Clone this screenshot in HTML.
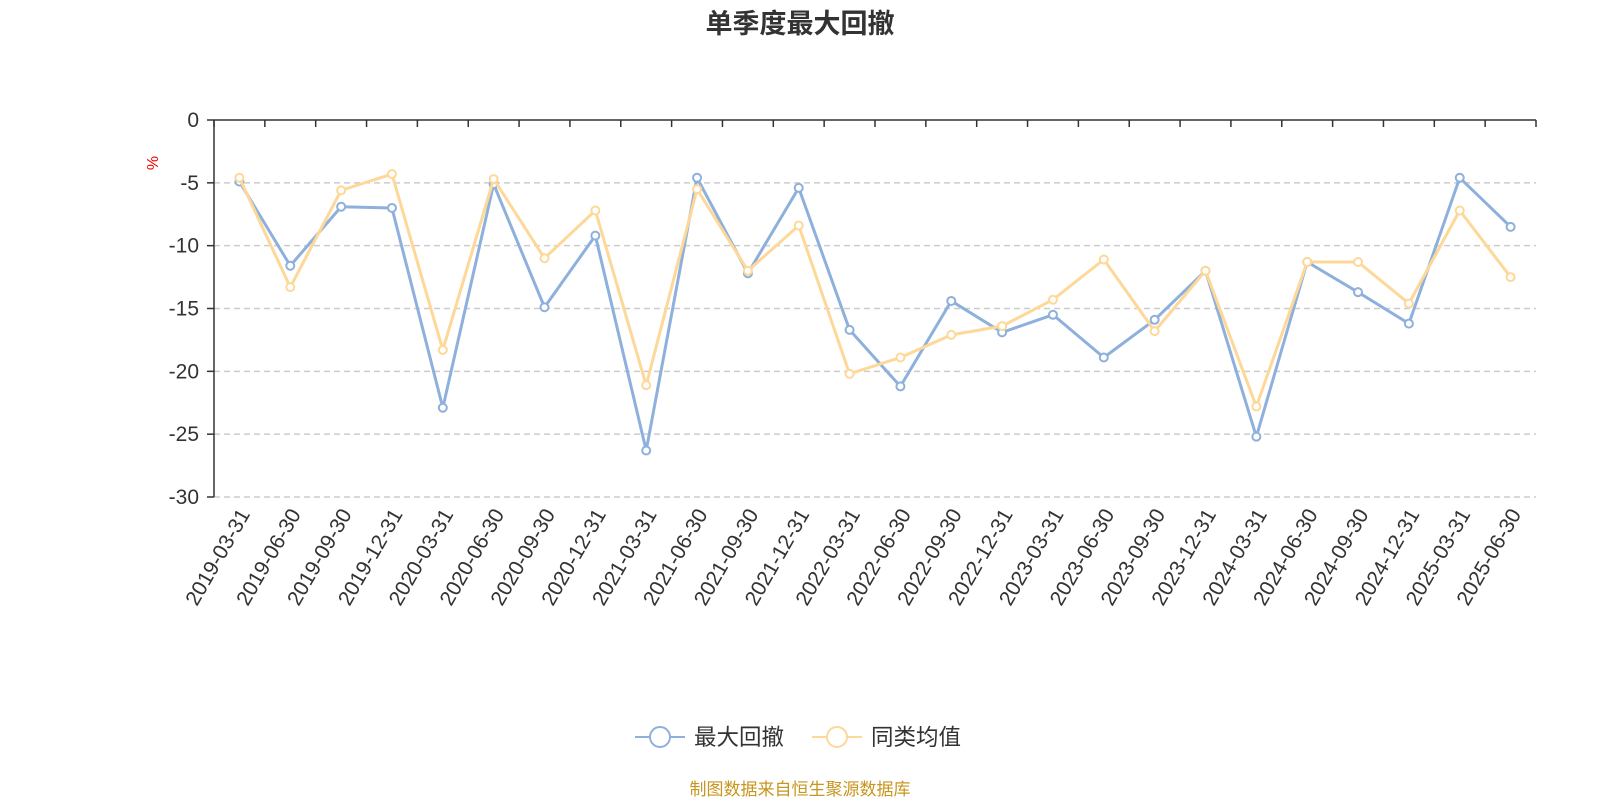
<!DOCTYPE html>
<html><head><meta charset="utf-8"><style>
body{margin:0;background:#fff;}
svg text{font-family:"Liberation Sans","Noto Sans CJK SC",sans-serif;}
</style></head><body>
<svg id="c" width="1600" height="800">
<text x="800" y="33" text-anchor="middle" font-size="27" font-weight="bold" fill="#333">单季度最大回撤</text>
<text x="158" y="163" font-size="16" fill="#e00" transform="rotate(-90 158 163)" text-anchor="middle">%</text>
<g id="grid"></g><g id="axes"></g><g id="series"></g>
<g>
<g><line x1="635" y1="737" x2="685" y2="737" stroke="#8eb0dc" stroke-width="2"/><circle cx="660" cy="737" r="10" fill="#fff" stroke="#8eb0dc" stroke-width="2"/><text x="694" y="745" font-size="22.5" fill="#333">最大回撤</text></g>
<g><line x1="812" y1="737" x2="862" y2="737" stroke="#fdd898" stroke-width="2"/><circle cx="837" cy="737" r="10" fill="#fff" stroke="#fdd898" stroke-width="2"/><text x="871" y="745" font-size="22.5" fill="#333">同类均值</text></g>
</g>
<text x="800" y="795" text-anchor="middle" font-size="17" fill="#c8961e">制图数据来自恒生聚源数据库</text>
</svg>
<script>
const categories=["2019-03-31","2019-06-30","2019-09-30","2019-12-31","2020-03-31","2020-06-30","2020-09-30","2020-12-31","2021-03-31","2021-06-30","2021-09-30","2021-12-31","2022-03-31","2022-06-30","2022-09-30","2022-12-31","2023-03-31","2023-06-30","2023-09-30","2023-12-31","2024-03-31","2024-06-30","2024-09-30","2024-12-31","2025-03-31","2025-06-30"];
const maxDrawdown=[-4.9,-11.6,-6.9,-7.0,-22.9,-5.1,-14.9,-9.2,-26.3,-4.6,-12.2,-5.4,-16.7,-21.2,-14.4,-16.9,-15.5,-18.9,-15.9,-12.0,-25.2,-11.3,-13.7,-16.2,-4.6,-8.5];
const categoryAvg=[-4.6,-13.3,-5.6,-4.3,-18.3,-4.7,-11.0,-7.2,-21.1,-5.5,-12.0,-8.4,-20.2,-18.9,-17.1,-16.4,-14.3,-11.1,-16.8,-12.0,-22.8,-11.3,-11.3,-14.6,-7.2,-12.5];
const yTicks=[0,-5,-10,-15,-20,-25,-30];
const NS="http://www.w3.org/2000/svg";
const L=214,R=1536,T=120,B=497;
const bw=(R-L)/categories.length;
const xPos=i=>L+bw*(i+0.5);
const yPos=v=>T+(0-v)/30*(B-T);
function mk(tag,attrs,parent){const e=document.createElementNS(NS,tag);for(const k in attrs)e.setAttribute(k,attrs[k]);parent.appendChild(e);return e;}
const grid=document.getElementById('grid'),axes=document.getElementById('axes'),series=document.getElementById('series');
yTicks.forEach(t=>{
  const y=yPos(t);
  if(t!==0){const g=mk('line',{x1:L,x2:R,y1:y,y2:y,stroke:'#ccc','stroke-dasharray':'6,4','stroke-width':1.5},grid);
  
  }
  mk('line',{x1:L-7,x2:L,y1:y,y2:y,stroke:'#333','stroke-width':1.5},axes);
  const tx=mk('text',{x:L-15,y:y+7,'text-anchor':'end','font-size':21,fill:'#333'},axes);
  tx.textContent=t;
  
  
});
const ya=mk('line',{x1:L,x2:L,y1:T,y2:B,stroke:'#333','stroke-width':1.5},axes);


const xa=mk('line',{x1:L,x2:R,y1:T,y2:T,stroke:'#333','stroke-width':1.5},axes);


for(let i=0;i<=categories.length;i++){const x=L+bw*i;mk('line',{x1:x,x2:x,y1:T,y2:T+7,stroke:'#333','stroke-width':1.5},axes);}
categories.forEach((c,i)=>{
  const x=xPos(i),y=B+14;
  const tx=mk('text',{x:x+6,y:y+6,'text-anchor':'end','font-size':21,fill:'#333',transform:`rotate(-60 ${x+6} ${y})`},axes);
  tx.textContent=c;
  
  
});
function draw(vals,color,name){
  const p=mk('polyline',{points:vals.map((v,i)=>xPos(i)+','+yPos(v)).join(' '),fill:'none',stroke:color,'stroke-width':3,'stroke-linejoin':'round'},series);
  
  
  vals.forEach((v,i)=>{
    const c=mk('circle',{cx:xPos(i),cy:yPos(v),r:4,fill:'#fff',stroke:color,'stroke-width':2},series);
    
    
  });
}
draw(maxDrawdown,'#8eb0dc','max-drawdown');
draw(categoryAvg,'#fdd898','category-average');
</script>
</body></html>
